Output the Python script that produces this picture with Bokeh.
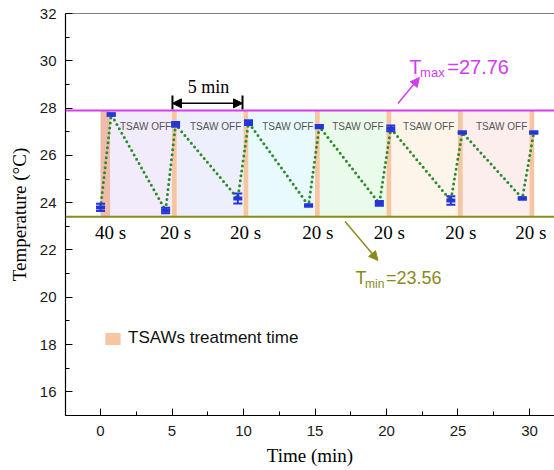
from bokeh.plotting import figure
from bokeh.models import (ColumnDataSource, Range1d, FixedTicker, Span, Arrow,
                          NormalHead, Legend, LegendItem)
from bokeh.core.properties import value
from bokeh.embed import file_html
from bokeh.resources import INLINE

# ---- data ----
times = [0, 0.75, 4.55, 5.25, 9.6, 10.35, 14.55, 15.3, 19.5, 20.3, 24.5, 25.3, 29.5, 30.3]
temps = [23.8, 27.73, 23.67, 27.31, 24.18, 27.39, 23.88, 27.22, 23.97, 27.14, 24.09, 26.97, 24.18, 26.97]
errs = [0.15, 0.05, 0.12, 0.1, 0.21, 0.1, 0.04, 0.07, 0.1, 0.12, 0.18, 0.04, 0.05, 0.04]

band_starts = [0, 5, 10, 15, 20, 25, 30]
band_secs = [40, 20, 20, 20, 20, 20, 20]
band_labels = ["40 s", "20 s", "20 s", "20 s", "20 s", "20 s", "20 s"]

t_max_level = 27.9
t_min_level = 23.4
t_max_value = "27.76"
t_min_value = "23.56"

x_ticks = [0, 5, 10, 15, 20, 25, 30]
x_minor = [-2.5, 2.5, 7.5, 12.5, 17.5, 22.5, 27.5]
y_ticks = [16, 18, 20, 22, 24, 26, 28, 30, 32]
y_minor = [15, 17, 19, 21, 23, 25, 27, 29, 31]

# ---- styles ----
off_colors = ["#f2ebfc", "#edf0fc", "#e8fafd", "#ebfbeb", "#fef5ea", "#fdeeee"]
band_color = "#f6c5a1"
band1_color = "#efbcab"
blue = "#2436d8"
green = "#2b8b2b"
magenta = "#d33cf0"
olive = "#8a8a1c"
SANS = "Liberation Sans"
SERIF = "Liberation Serif"

band_ends = [s + d / 60 for s, d in zip(band_starts, band_secs)]

p = figure(frame_width=489, frame_height=402,
           x_range=Range1d(-2.45, 31.75), y_range=Range1d(15, 32),
           output_backend="svg", toolbar_location=None,
           min_border_left=65, min_border_right=0, min_border_top=13, min_border_bottom=55)
p.outline_line_color = None
p.grid.visible = False
p.background_fill_color = "white"

# pastel "TSAW OFF" regions
off_src = ColumnDataSource(dict(left=band_ends[:-1], right=band_starts[1:],
                                color=off_colors))
p.quad(left="left", right="right", bottom=t_min_level, top=t_max_level,
       fill_color="color", line_color=None, source=off_src)

# treatment bands
p.quad(left=band_starts[:1], right=band_ends[:1], bottom=t_min_level, top=t_max_level,
       fill_color=band1_color, line_color=None)
bands_r = p.quad(left=band_starts[1:], right=band_ends[1:], bottom=t_min_level,
                 top=t_max_level, fill_color=band_color, line_color=None)

# Tmax / Tmin lines
p.add_layout(Span(location=t_max_level, dimension="width", line_color=magenta, line_width=2))
p.add_layout(Span(location=t_min_level, dimension="width", line_color=olive, line_width=2))
p.add_layout(Span(location=32, dimension="width", line_color="black", line_width=1.2))

# dotted connecting line
p.line(times, temps, line_color=green, line_width=3, line_dash="0 5", line_cap="round")

# error bars
lo = [t - e for t, e in zip(temps, errs)]
hi = [t + e for t, e in zip(temps, errs)]
p.segment(x0=times, y0=lo, x1=times, y1=hi, line_color=blue, line_width=2)
p.scatter(times, hi, marker="dash", size=9, line_color=blue, line_width=2)
p.scatter(times, lo, marker="dash", size=9, line_color=blue, line_width=2)
p.rect(times, temps, width=9, height=4, width_units="screen", height_units="screen",
       fill_color=blue, line_color=None)

# TSAW OFF labels
off_x = [3.15, 8.05, 13.1, 18.0, 22.95, 28.05]
p.text(x=off_x, y=[27.22] * len(off_x), text=["TSAW OFF"] * len(off_x),
       text_font=value(SANS), text_font_size="10px", text_color="#555555",
       text_align="center", text_baseline="middle")

# duration labels
lab_x = [0.7, 5.25, 10.15, 15.2, 20.2, 25.2, 30.1]
p.text(x=lab_x, y=[22.75] * len(lab_x), text=band_labels,
       text_font=value(SERIF), text_font_size="19px", text_color="black",
       text_align="center", text_baseline="middle")

# 5 min annotation
p.add_layout(Arrow(x_start=5.03, y_start=28.2, x_end=9.93, y_end=28.2,
                   line_color="black", line_width=1.5,
                   start=NormalHead(size=9, fill_color="black", line_color="black"),
                   end=NormalHead(size=9, fill_color="black", line_color="black")))
p.segment(x0=[5.03, 9.93], y0=[27.94, 27.94], x1=[5.03, 9.93], y1=[28.53, 28.53],
          line_color="black", line_width=2)
p.text(x=[7.55], y=[28.9], text=["5 min"], text_font=value(SERIF), text_font_size="18px",
       text_color="black", text_align="center", text_baseline="alphabetic")

# Tmax annotation
p.add_layout(Arrow(x_start=20.8, y_start=28.19, x_end=22.3, y_end=29.29,
                   line_color=magenta, line_width=1.5,
                   end=NormalHead(size=9, fill_color=magenta, line_color=magenta)))
p.text(x=[21.6], y=[29.72], text=["T"], text_font=value(SANS), text_font_size="20px",
       text_color=magenta, text_baseline="alphabetic")
p.text(x=[22.35], y=[29.5], text=["max"], text_font=value(SANS), text_font_size="13px",
       text_color=magenta, text_baseline="alphabetic")
p.text(x=[24.25], y=[29.72], text=["=" + t_max_value], text_font=value(SANS),
       text_font_size="20px", text_color=magenta, text_baseline="alphabetic")

# Tmin annotation
p.add_layout(Arrow(x_start=17.1, y_start=23.2, x_end=19.4, y_end=21.56,
                   line_color=olive, line_width=1.5,
                   end=NormalHead(size=9, fill_color=olive, line_color=olive)))
p.text(x=[17.83], y=[20.8], text=["T"], text_font=value(SANS), text_font_size="18px",
       text_color=olive, text_baseline="alphabetic")
p.text(x=[18.5], y=[20.58], text=["min"], text_font=value(SANS), text_font_size="12px",
       text_color=olive, text_baseline="alphabetic")
p.text(x=[19.97], y=[20.8], text=["=" + t_min_value], text_font=value(SANS),
       text_font_size="18px", text_color=olive, text_baseline="alphabetic")

# legend
legend = Legend(items=[LegendItem(label="TSAWs treatment time", renderers=[bands_r])],
                location=(38, 67), padding=0, margin=0, glyph_width=19, glyph_height=15,
                label_height=17, label_standoff=6, border_line_color=None,
                background_fill_alpha=0, label_text_font=SANS, label_text_font_size="17px",
                label_text_color="#111111")
p.add_layout(legend)

# axes
p.xaxis.ticker = FixedTicker(ticks=x_ticks, minor_ticks=x_minor)
p.yaxis.ticker = FixedTicker(ticks=y_ticks, minor_ticks=y_minor)
for ax in (p.xaxis, p.yaxis):
    ax.major_tick_in = 7
    ax.major_tick_out = 0
    ax.minor_tick_in = 4
    ax.minor_tick_out = 0
    ax.axis_line_color = "black"
    ax.axis_line_width = 1.2
    ax.major_tick_line_color = "black"
    ax.minor_tick_line_color = "black"
    ax.major_label_text_font = SANS
    ax.major_label_text_font_size = "15px"
    ax.major_label_text_color = "#1a1a1a"
    ax.axis_label_text_font = SERIF
    ax.axis_label_text_font_style = "normal"
    ax.axis_label_text_font_size = "19px"
    ax.axis_label_text_color = "black"
p.xaxis.major_label_standoff = 10
p.xaxis.axis_label_standoff = 6
p.yaxis.major_label_standoff = 9
p.yaxis.axis_label_standoff = 7
p.xaxis.axis_label = "Time (min)"
p.yaxis.axis_label = "Temperature (°C)"

open("out.html", "w").write(file_html(p, INLINE))
